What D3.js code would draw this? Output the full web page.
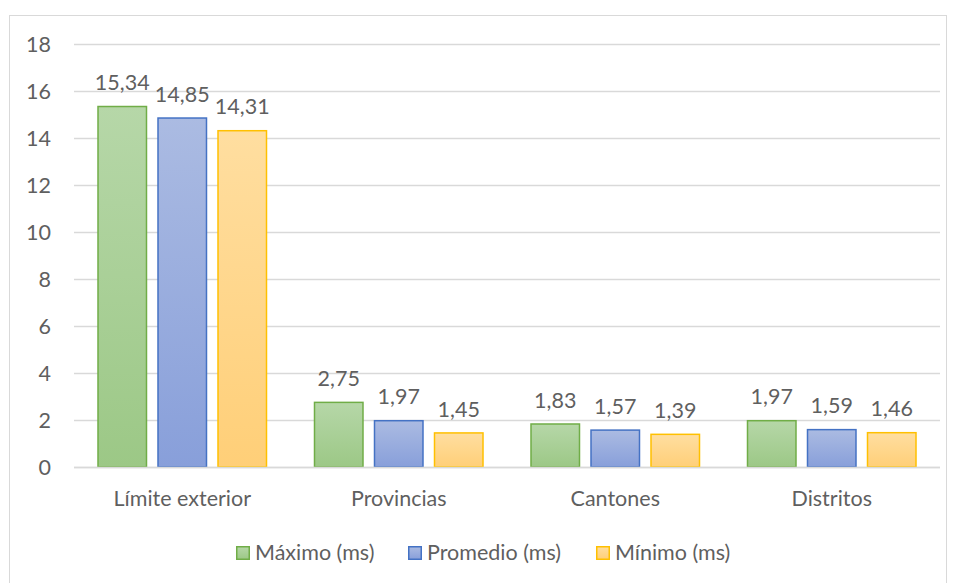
<!DOCTYPE html>
<html><head><meta charset="utf-8">
<script src="https://cdn.jsdelivr.net/npm/d3@7"></script>
<style>body{margin:0;background:#fff}svg{display:block}text{font-family:Lato,"Open Sans",sans-serif;fill:#5f5f5f}</style>
</head><body><svg id="c" width="955" height="583"></svg>
<script>
const categories = ["Límite exterior","Provincias","Cantones","Distritos"];
const seriesNames = ["Máximo (ms)","Promedio (ms)","Mínimo (ms)"];
const maximo = [15.34, 2.75, 1.83, 1.97];
const promedio = [14.85, 1.97, 1.57, 1.59];
const minimo = [14.31, 1.45, 1.39, 1.46];
const yTicks = [0,2,4,6,8,10,12,14,16,18];
const series = [maximo, promedio, minimo];
const strokes = ["#70ad47","#4472c4","#ffc000"];
const topCols = ["#b6d7a8","#abbbe2","#ffdea0"];
const botCols = ["#9cc886","#889fda","#ffcf78"];
const FS = 21.5;

const svg = d3.select("#c");
svg.append("rect").attr("x",9.5).attr("y",15.5).attr("width",937).attr("height",600)
  .attr("fill","#fff").attr("stroke","#d9d9d9");
const defs = svg.append("defs");
series.forEach((s,i)=>{
  const g = defs.append("linearGradient").attr("id","g"+i).attr("x1",0).attr("y1",0).attr("x2",0).attr("y2",1);
  g.append("stop").attr("offset",0).attr("stop-color",topCols[i]);
  g.append("stop").attr("offset",1).attr("stop-color",botCols[i]);
});
const x0 = d3.scaleBand().domain(categories).range([74,940]);
const y = d3.scaleLinear().domain([0,18]).range([467,44]);
const x1 = d3.scaleBand().domain(d3.range(3)).range([0,170]).paddingInner(0.1667);

svg.append("g").selectAll("line").data(yTicks).join("line")
  .attr("x1",74).attr("x2",940).attr("y1",d=>Math.round(y(d))+0.5).attr("y2",d=>Math.round(y(d))+0.5)
  .attr("stroke","#d9d9d9").attr("stroke-width",1.3);
svg.append("g").selectAll("text").data(yTicks).join("text")
  .attr("x",51).attr("y",d=>y(d)).attr("dy","0.36em").attr("text-anchor","end")
  .attr("font-size",FS).text(d=>d);

categories.forEach((c,ci)=>{
  const cx = x0(c)+x0.bandwidth()/2 - 85;
  series.forEach((s,si)=>{
    const bx = cx + x1(si);
    svg.append("rect").attr("x",bx+0.75).attr("y",y(s[ci])).attr("width",x1.bandwidth()-1.5)
      .attr("height",y(0)-y(s[ci])).attr("fill","url(#g"+si+")").attr("stroke",strokes[si]).attr("stroke-width",1.5);
    svg.append("text").attr("x",bx+x1.bandwidth()/2).attr("y",y(s[ci])-24).attr("dy","0.36em").attr("text-anchor","middle")
      .attr("font-size",FS).text(s[ci].toFixed(2).replace(".",","));
  });
  svg.append("text").attr("x",x0(c)+x0.bandwidth()/2).attr("y",498).attr("dy","0.36em").attr("text-anchor","middle")
    .attr("font-size",FS).text(c);
});
svg.append("line").attr("x1",74).attr("x2",940).attr("y1",Math.round(y(0))+0.5).attr("y2",Math.round(y(0))+0.5)
  .attr("stroke","#d9d9d9").attr("stroke-width",1.3);

const legX = [236, 408, 596];
seriesNames.forEach((n,i)=>{
  svg.append("rect").attr("x",legX[i]+0.75).attr("y",546.75).attr("width",12.5).attr("height",12.5)
    .attr("fill","url(#g"+i+")").attr("stroke",strokes[i]).attr("stroke-width",1.5);
  svg.append("text").attr("x",legX[i]+19).attr("y",552).attr("dy","0.36em").attr("font-size",FS).text(n);
});
</script></body></html>
